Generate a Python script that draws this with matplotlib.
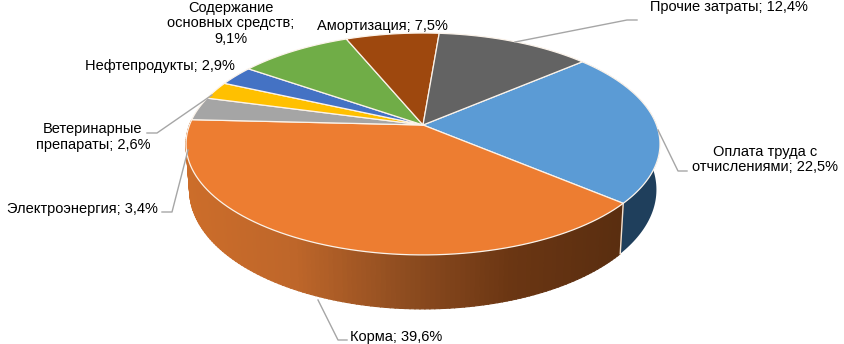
import numpy as np
import matplotlib
matplotlib.use("Agg")
import matplotlib.pyplot as plt
from matplotlib.colors import LinearSegmentedColormap
from matplotlib.patches import Polygon

plt.rcParams['font.family'] = ['Liberation Sans', 'DejaVu Sans']

# clockwise from the start of the "Оплата" slice
categories = ["Оплата труда с\nотчислениями", "Корма", "Электроэнергия",
              "Ветеринарные\nпрепараты", "Нефтепродукты",
              "Содержание\nосновных средств", "Амортизация", "Прочие затраты"]
values = [22.5, 39.6, 3.4, 2.6, 2.9, 9.1, 7.5, 12.4]
colors = ["#5B9BD5", "#ED7D31", "#A5A5A5", "#FFC000", "#4472C4",
          "#70AD47", "#9E480E", "#636363"]

W, H = 844, 344
fig = plt.figure(figsize=(W / 100, H / 100), dpi=100)
ax = fig.add_axes([0, 0, 1, 1])
ax.set_xlim(0, W)
ax.set_ylim(H, 0)
ax.axis("off")

# perspective projection of the pie's disc
CX, CY = 423, 125
K, KY, C = 233.5, 107.7, -0.171
START = 49.3


def top(a):
    r = np.radians(a)
    u, v = np.sin(r), -np.cos(r)
    w = 1 + C * v
    return CX + K * u / w, CY + KY * v / w


def bottom(a):
    x, y = top(a)
    v = -np.cos(np.radians(a))
    return CX + 0.985 * (x - CX), y + 44 + 10 * v


edges = START + np.concatenate([[0], np.cumsum(values)]) * 3.6

# side walls
side = LinearSegmentedColormap.from_list(
    "side", ["#CC6D2A", "#BE662A", "#8F4D20", "#6B3613", "#5A2E10"])
a0, a1 = edges[1], edges[2]
n = 140
for a in np.linspace(a0, a1, n)[:-1]:
    b = a + (a1 - a0) / (n - 1) + 0.15
    xa, ya = top(a); xb, yb = top(b)
    xc, yc = bottom(b); xd, yd = bottom(a)
    t = np.clip((xa - 187) / (622 - 187), 0, 1)
    ax.add_patch(Polygon([(xa, ya), (xb, yb), (xc, yc), (xd, yd)],
                         fc=side(t), ec=side(t), lw=0.8, zorder=2))
aa = np.linspace(edges[0], edges[1], 80)
xt, yt = top(aa); xb, yb = bottom(aa)
ax.fill(np.r_[xt, xb[::-1]], np.r_[yt, yb[::-1]], fc="#1F3F5C", ec="none", zorder=1)
xs, ys = top(edges[1]), bottom(edges[1])
ax.plot([xs[0], ys[0]], [xs[1], ys[1]], color="#F3E3D3", lw=1, zorder=3)

# top faces
for i, col in enumerate(colors):
    aa = np.linspace(edges[i], edges[i + 1], 80)
    x, y = top(aa)
    ax.fill(np.r_[CX, x], np.r_[CY, y], fc=col, ec="#FBF3EA", lw=0.9, zorder=4,
            joinstyle="round")

# leader lines
leaders = [
    ([637, 627, 515], [20, 20, 42]),
    ([687, 678, 658], [171, 171, 130]),
    ([347, 338, 318], [340, 340, 300]),
    ([162, 172, 188], [212, 212, 150]),
    ([147, 157, 212], [133, 133, 95]),
]
for lx, ly in leaders:
    ax.plot(lx, ly, color="#A6A6A6", lw=1, zorder=5, solid_joinstyle="round")

# labels
pct = [f"{v:.1f}%".replace(".", ",") for v in values]
FS = 10.5
kw = dict(fontsize=FS, color="black", va="center", zorder=6, linespacing=1.1)
ax.text(765, 159.5, f"{categories[0]}; {pct[0]}", ha="center", **kw)
ax.text(350, 337, f"{categories[1]}; {pct[1]}", ha="left", **kw)
ax.text(7, 209, f"{categories[2]}; {pct[2]}", ha="left", **kw)
ax.text(93, 137, f"{categories[3]}; {pct[3]}", ha="center", **kw)
ax.text(85, 66, f"{categories[4]}; {pct[4]}", ha="left", **kw)
ax.text(231, 23.5, f"{categories[5]};\n{pct[5]}", ha="center", **kw)
ax.text(317, 26, f"{categories[6]}; {pct[6]}", ha="left", **kw)
ax.text(650, 6.5, f"{categories[7]}; {pct[7]}", ha="left", **kw)

fig.savefig("out.png", dpi=100, facecolor="white")
